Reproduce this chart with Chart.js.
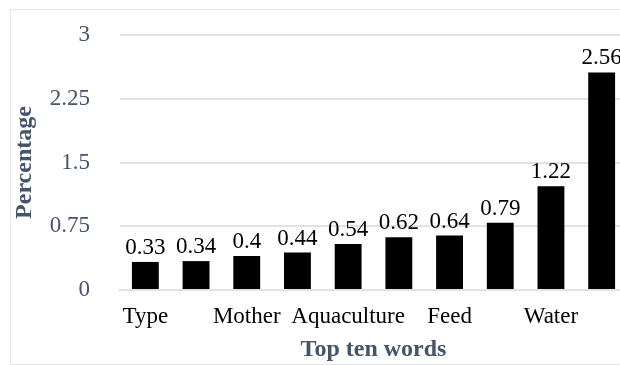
<!DOCTYPE html>
<html>
<head>
<meta charset="utf-8">
<script src="https://cdn.jsdelivr.net/npm/chart.js@4"></script>
<style>
  html, body { margin: 0; padding: 0; background: #fff; overflow: hidden; }
  #wrap { position: relative; width: 640px; height: 365px; }
  #frame { position: absolute; left: 10px; top: 9px; width: 640px; height: 354px;
           border: 1px solid #e1e4e8; pointer-events: none; }
</style>
</head>
<body>
<div id="wrap">
  <canvas id="chart" width="640" height="365"></canvas>
  <div id="frame"></div>
</div>
<script>
// only every other word is printed under the axis in the original
var palabras = ["Type", "", "Mother", "", "Aquaculture", "", "Feed", "", "Water", ""];
var porcentajes = [0.33, 0.34, 0.4, 0.44, 0.54, 0.62, 0.64, 0.79, 1.22, 2.56];
var ticksY = [0, 0.75, 1.5, 2.25, 3];

var colorTitulo = "#44546A";
var colorGrid = "#dfe2e7";
var fuente = "'Liberation Serif', 'Times New Roman', serif";

// etiquetas de valor encima de cada barra
var etiquetasBarras = {
    id: "etiquetasBarras",
    afterDatasetsDraw: function (chart) {
        var ctx = chart.ctx;
        var meta = chart.getDatasetMeta(0);
        ctx.save();
        ctx.fillStyle = "#000";
        ctx.font = "23px " + fuente;
        ctx.textAlign = "center";
        ctx.textBaseline = "alphabetic";
        meta.data.forEach(function (bar, i) {
            ctx.fillText(String(porcentajes[i]), bar.x, bar.y - 8);
        });
        ctx.restore();
    }
};

var ctx1 = document.getElementById("chart").getContext("2d");
var myChart1 = new Chart(ctx1, {
    type: "bar",
    data: {
        labels: palabras,
        datasets: [{
            data: porcentajes,
            backgroundColor: "#000",
            barPercentage: 0.53,
            categoryPercentage: 1
        }]
    },
    options: {
        responsive: false,
        animation: false,
        layout: { padding: { left: 10, top: 35, right: 13, bottom: 0 } },
        plugins: { legend: { display: false }, tooltip: { enabled: false } },
        scales: {
            x: {
                grid: { display: false },
                border: { color: colorGrid, width: 2 },
                ticks: {
                    color: "#000",
                    font: { family: fuente, size: 23 },
                    padding: 5,
                    autoSkip: false,
                    maxRotation: 0
                },
                title: {
                    display: true,
                    text: "Top ten words",
                    color: colorTitulo,
                    font: { family: fuente, size: 24, weight: "bold" },
                    padding: { top: 0, bottom: 1 }
                },
                afterFit: function (scale) {
                    scale.height = 75;
                    scale.paddingLeft = 0;
                    scale.paddingRight = 0;
                }
            },
            y: {
                min: 0,
                max: 3,
                afterBuildTicks: function (scale) {
                    scale.ticks = ticksY.map(function (v) { return { value: v }; });
                },
                grid: { color: colorGrid, lineWidth: 2, drawTicks: false },
                border: { display: false },
                ticks: {
                    color: colorTitulo,
                    font: { family: fuente, size: 23 },
                    padding: 30,
                    callback: function (value) { return String(value); }
                },
                title: {
                    display: true,
                    text: "Percentage",
                    color: colorTitulo,
                    font: { family: fuente, size: 24, weight: "bold" },
                    padding: { top: 0, bottom: 0 }
                },
                afterFit: function (scale) {
                    scale.width = 110;
                    scale.paddingTop = 0;
                    scale.paddingBottom = 0;
                }
            }
        }
    },
    plugins: [etiquetasBarras]
});
</script>
</body>
</html>
